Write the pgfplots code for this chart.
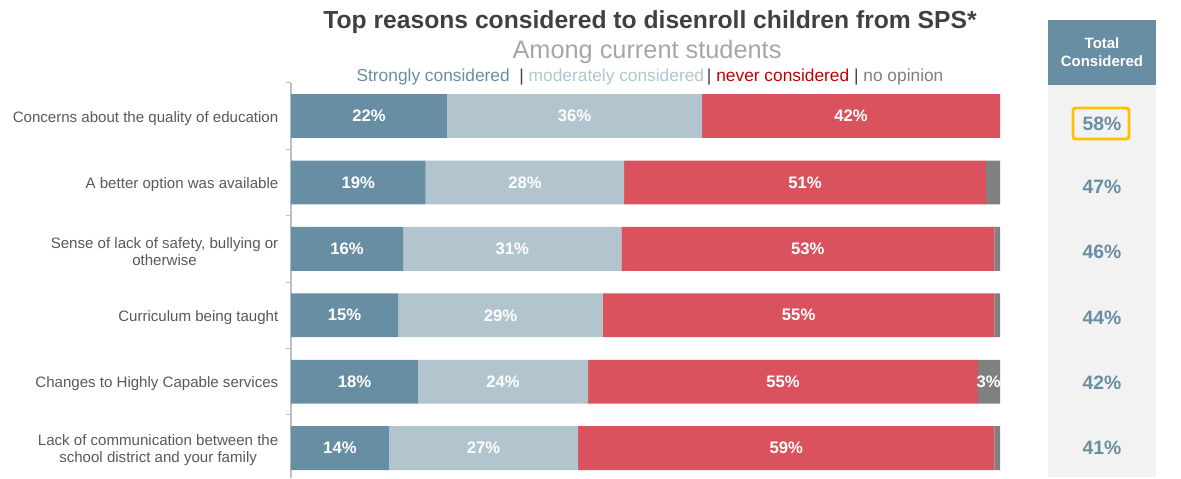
\documentclass[border=0pt]{standalone}
\usepackage{pgfplots}
\pgfplotsset{compat=1.18}
\usepackage{pgfplotstable}
\usepackage{fontspec}
\setmainfont{Liberation Sans}
\definecolor{cStrong}{HTML}{688EA4}
\definecolor{cLight}{HTML}{B2C5CE}
\definecolor{cRed}{HTML}{D9525E}
\definecolor{cGray}{HTML}{808080}
\definecolor{cRedText}{HTML}{C00000}
\definecolor{cTitle}{HTML}{404040}
\definecolor{cSub}{HTML}{A6A6A6}
\definecolor{cCat}{HTML}{595959}
\definecolor{cAxis}{HTML}{BFBFBF}
\definecolor{cBg}{HTML}{F2F2F2}
\definecolor{cOrange}{HTML}{FFC000}

\pgfplotstableread{
row s m n o
0 22 36 42 0
1 19 28 51 2
2 15.8 30.8 52.6 0.8
3 15.1 28.9 55.2 0.8
4 17.9 24.0 55.0 3.1
5 13.8 26.7 58.7 0.8
}\bars

\pgfplotstableread{
x row lab
11 0 22
40 0 36
79 0 42
9.5 1 19
33 1 28
72.5 1 51
7.9 2 16
31.2 2 31
72.9 2 53
7.55 3 15
29.55 3 29
71.6 3 55
8.95 4 18
29.9 4 24
69.4 4 55
98.4 4 3
6.9 5 14
27.15 5 27
69.85 5 59
}\labs

\begin{document}
\begin{tikzpicture}
\begin{scope}[x=0.75pt,y=-0.75pt]
\path[use as bounding box] (0,0) rectangle (1181,477);

% right panel
\fill[cBg] (1048,85) rectangle (1156,477);
\fill[cStrong] (1048,20) rectangle (1156,85);
\node[text=white, font=\bfseries\fontsize{11.2}{13.5}\selectfont, align=center] at (1102,52.5) {Total\\Considered};
\foreach \v/\yy in {58/124,47/187,46/252,44/318,42/383,41/448}{
  \node[text=cStrong, font=\bfseries\fontsize{14.5}{16}\selectfont] at (1102,\yy) {\v\%};
}
\draw[cOrange, line width=2.2pt, rounded corners=2pt] (1073,108) rectangle (1129,139);

% titles
\node[anchor=base, text=cTitle, font=\bfseries\fontsize{18.5}{22}\selectfont] at (650,29) {Top reasons considered to disenroll children from SPS*};
\node[anchor=base, text=cSub, font=\fontsize{19}{22}\selectfont] at (647,59) {Among current students};
\node[anchor=base, font=\fontsize{13}{15}\selectfont] at (650,81.5) {\textcolor{cStrong}{Strongly considered}\ \ \textcolor{cTitle}{|}\ \textcolor{cLight}{moderately considered}\,\textcolor{cTitle}{|} \textcolor{cRedText}{never considered} \textcolor{cTitle}{|} \textcolor{cGray}{no opinion}};
\end{scope}

\begin{axis}[
  at={(218.25pt,-62.1pt)}, anchor=north west,
  scale only axis, width=531.75pt, height=296.4pt,
  xbar stacked, bar width=0.66,
  xmin=0, xmax=100, ymin=-0.5, ymax=5.45, y dir=reverse,
  hide x axis, axis y line*=left,
  axis line style={cAxis, line width=0.8pt},
  ytick={0,...,5},
  yticklabels={{Concerns about the quality of education},{A better option was available},{Sense of lack of safety, bullying or\\otherwise},{Curriculum being taught},{Changes to Highly Capable services},{Lack of communication between the\\school district and your family}},
  yticklabel style={align=center, text=cCat, font=\fontsize{11.3}{12.75}\selectfont, xshift=-6pt, yshift=-1.8pt},
  major tick length=0pt,
  minor ytick={-0.5,0.5,...,5.5},
  minor tick length=4pt,
  tick align=outside,
  minor tick style={cAxis, line width=0.8pt},
  clip=false,
]
\addplot[fill=cStrong, draw=none] table[x=s, y=row]{\bars};
\addplot[fill=cLight, draw=none] table[x=m, y=row]{\bars};
\addplot[fill=cRed, draw=none] table[x=n, y=row]{\bars};
\addplot[fill=cGray, draw=none] table[x=o, y=row]{\bars};
\end{axis}

\begin{axis}[
  at={(218.25pt,-62.1pt)}, anchor=north west,
  scale only axis, width=531.75pt, height=296.4pt,
  xmin=0, xmax=100, ymin=-0.5, ymax=5.45, y dir=reverse,
  hide axis, clip=false,
  point meta=explicit symbolic,
  nodes near coords style={anchor=center, text=white, font=\bfseries\fontsize{12.5}{14}\selectfont},
]
\addplot[draw=none, mark=none, nodes near coords={\pgfplotspointmeta\%}] table[x=x, y=row, meta=lab]{\labs};
\end{axis}
\end{tikzpicture}
\end{document}
